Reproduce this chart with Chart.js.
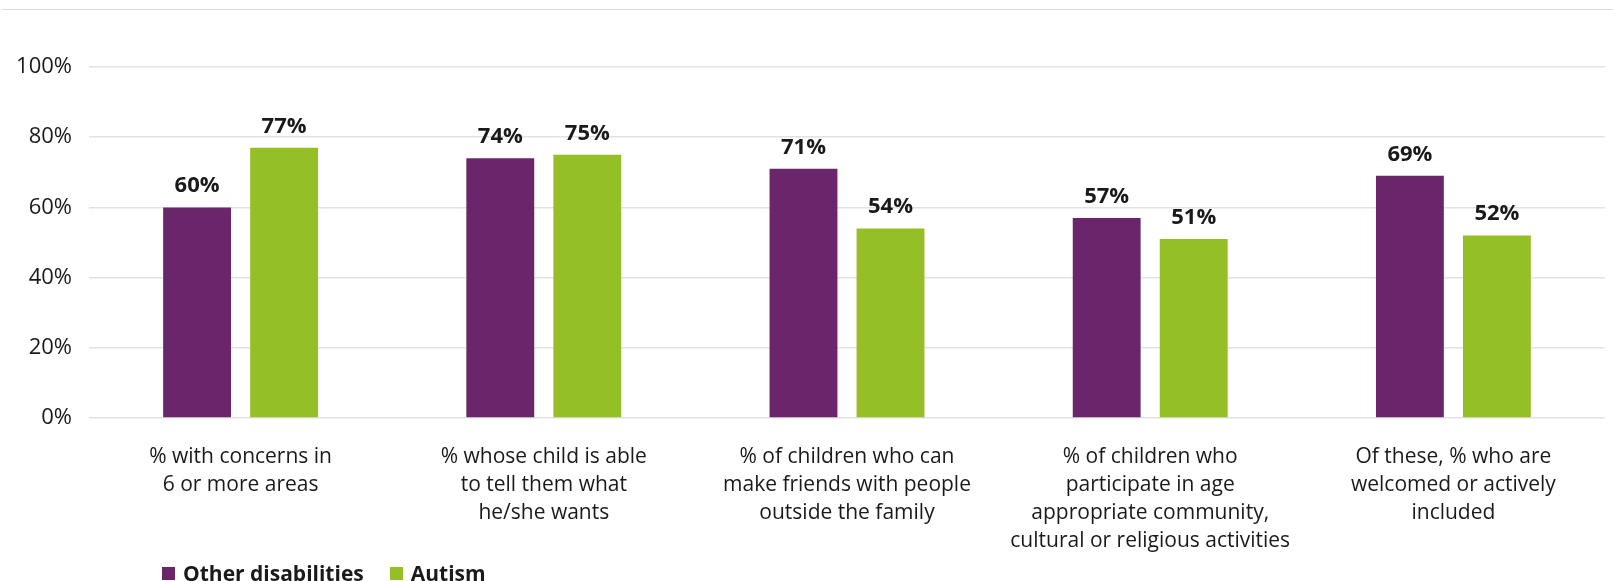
<!DOCTYPE html>
<html>
<head>
<meta charset="utf-8">
<script src="https://cdn.jsdelivr.net/npm/chart.js@4/dist/chart.umd.min.js"></script>
<style>
  html, body { margin: 0; padding: 0; background: #fff; }
  body { width: 1613px; height: 581px; position: relative; overflow: hidden; font-family: "Open Sans", sans-serif; }
  #topLine { position: absolute; top: 9px; left: 2px; right: 0; border-top: 1px solid #dadada; }
  #wrap { position: absolute; left: 0; top: 0; width: 1613px; height: 581px; }
  #legend { position: absolute; left: 162px; top: 559px; display: flex; align-items: center; font-weight: bold; font-size: 21px; color: #1a1a1a; }
  #legend .sw { width: 13px; height: 13px; display: inline-block; margin-right: 8px; }
  #legend .item { display: flex; align-items: center; margin-right: 26px; }
</style>
</head>
<body>
<div id="topLine"></div>
<div id="wrap"><canvas id="chart"></canvas></div>
<div id="legend"></div>
<script>
const categories = [
  ['% with concerns in', '6 or more areas'],
  ['% whose child is able', 'to tell them what', 'he/she wants'],
  ['% of children who can', 'make friends with people', 'outside the family'],
  ['% of children who', 'participate in age', 'appropriate community,', 'cultural or religious activities'],
  ['Of these, % who are', 'welcomed or actively', 'included']
];
const otherDisabilities = [60, 74, 71, 57, 69];
const autism = [77, 75, 54, 51, 52];
const yTicks = [0, 20, 40, 60, 80, 100];

const PURPLE = '#6a256b';
const GREEN = '#95bf27';
const TEXT = '#1a1a1a';

// value labels above the bars
const barLabels = {
  id: 'barLabels',
  afterDatasetsDraw(chart) {
    const ctx = chart.ctx;
    ctx.save();
    ctx.font = 'bold 22px "Open Sans"';
    ctx.fillStyle = TEXT;
    ctx.textAlign = 'center';
    ctx.textBaseline = 'alphabetic';
    chart.data.datasets.forEach((ds, i) => {
      chart.getDatasetMeta(i).data.forEach((bar, j) => {
        ctx.fillText(ds.data[j] + '%', bar.x, bar.y - 15);
      });
    });
    ctx.restore();
  }
};

const chart = new Chart(document.getElementById('chart'), {
  type: 'bar',
  data: {
    labels: categories,
    datasets: [
      { label: 'Other disabilities', data: otherDisabilities, backgroundColor: PURPLE },
      { label: 'Autism', data: autism, backgroundColor: GREEN }
    ]
  },
  options: {
    responsive: true,
    maintainAspectRatio: false,
    animation: false,
    datasets: { bar: { categoryPercentage: 0.574, barPercentage: 0.78 } },
    layout: { padding: { top: 67, right: 8, left: 0, bottom: 0 } },
    plugins: {
      legend: { display: false },
      tooltip: { enabled: false }
    },
    scales: {
      x: {
        grid: { display: false },
        border: { display: false },
        ticks: {
          color: TEXT,
          font: { family: 'Open Sans', size: 21, lineHeight: 1.33 },
          padding: 17,
          maxRotation: 0,
          autoSkip: false
        },
        afterFit: s => { s.height = 581 - 418; }
      },
      y: {
        min: 0,
        max: 100,
        afterBuildTicks: s => { s.ticks = yTicks.map(v => ({ value: v })); },
        grid: { color: '#e2e2e2', lineWidth: 1.5, drawTicks: false },
        border: { display: false },
        ticks: {
          color: TEXT,
          font: { family: 'Open Sans', size: 22 },
          padding: 17,
          callback: v => v + '%'
        },
        afterFit: s => { s.width = 89; }
      }
    }
  },
  plugins: [barLabels]
});

// html legend
const legendEl = document.getElementById('legend');
chart.data.datasets.forEach(ds => {
  const item = document.createElement('span');
  item.className = 'item';
  item.innerHTML = '<span class="sw" style="background:' + ds.backgroundColor + '"></span>' + ds.label;
  legendEl.appendChild(item);
});
</script>
</body>
</html>
